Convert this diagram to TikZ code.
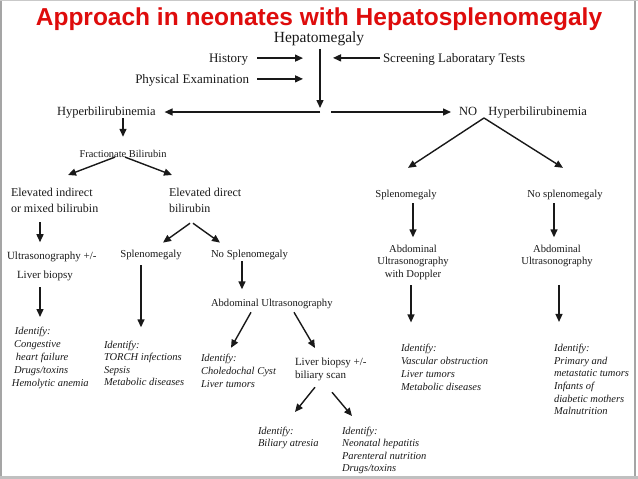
\documentclass[tikz,border=0pt]{standalone}
\usepackage{fontspec}
\setmainfont{Liberation Serif}
\newfontfamily\titlefont{Liberation Sans}
\usetikzlibrary{arrows.meta,calc}
\definecolor{titlered}{RGB}{222,12,12}
\definecolor{ink}{RGB}{25,25,25}
\definecolor{framegray}{RGB}{165,165,165}
\newcommand\fsz[2]{\fontsize{#1}{#2}\selectfont}
\begin{document}
\begin{tikzpicture}[x=1pt,y=-1pt,
  every node/.style={inner sep=0pt,outer sep=0pt,text=ink},
  arr/.style={draw=ink,line width=1.4pt,-{Triangle[length=8pt,width=7pt]}},
  idblock/.style={anchor=north west,align=left},
]
\useasboundingbox (0,0) rectangle (638,479);
% frame
\draw[framegray,line width=1.2pt] (1,0) -- (1,479);
\draw[framegray,line width=1.2pt] (635,0) -- (635,479);
\draw[framegray!60,line width=0.8pt] (0,0.4) -- (638,0.4);
\fill[framegray!70] (0,476) rectangle (638,479);
% title
\node[anchor=base,text=titlered,font=\titlefont\bfseries\fsz{24.5}{28}] (title) at (319,26) {Approach in neonates with Hepatosplenomegaly};
% top
\node[anchor=base,font=\fsz{15.5}{18}] (hep) at (319,42.5) {Hepatomegaly};
\node[anchor=base east,font=\fsz{13}{15}] (hist) at (248,62) {History};
\node[anchor=base east,font=\fsz{13}{15}] (phys) at (249,83) {Physical Examination};
\node[anchor=base west,font=\fsz{13}{15}] (screen) at (383,62) {Screening Laboratary Tests};
\coordinate (trunk) at (320,112);
\node[anchor=base west,font=\fsz{12.5}{14}] (hyper) at (57,115) {Hyperbilirubinemia};
\node[anchor=base west,font=\fsz{12.5}{14}] (nohyper) at (459,115) {NO\hspace{0.9em}Hyperbilirubinemia};
% left branch
\node[anchor=base,font=\fsz{10.4}{12}] (frac) at (123,157) {Fractionate Bilirubin};
\node[idblock,font=\fsz{12}{16}] (ind) at (11,187.8) {Elevated indirect\\or mixed bilirubin};
\node[idblock,font=\fsz{12}{16}] (dir) at (169,187.8) {Elevated direct\\bilirubin};
\node[idblock,font=\fsz{11}{19.5}] (us1) at (7,251.5) {Ultrasonography +/-\\\hspace{10pt}Liver biopsy};
\node[idblock,font=\itshape\fsz{10.5}{13}] (idL) at (12,326.8) {\hspace{3pt}Identify:\\\hspace{2pt}Congestive\\\hspace{4pt}heart failure\\\hspace{2pt}Drugs/toxins\\Hemolytic anemia};
\node[anchor=base,font=\fsz{10.7}{12}] (spl1) at (151,257) {Splenomegaly};
\node[anchor=base west,font=\fsz{10.7}{12}] (nospl1) at (211,257) {No Splenomegaly};
\node[idblock,font=\itshape\fsz{10.5}{12.6}] (idT) at (104,340.8) {Identify:\\TORCH infections\\Sepsis\\Metabolic diseases};
\node[anchor=base west,font=\fsz{10.6}{12}] (abd1) at (211,306) {Abdominal Ultrasonography};
\node[idblock,font=\itshape\fsz{10.5}{13}] (idC) at (201,353.8) {Identify:\\Choledochal Cyst\\Liver tumors};
\node[idblock,font=\fsz{11}{13}] (lbx) at (295,357.5) {Liver biopsy +/-\\biliary scan};
\node[idblock,font=\itshape\fsz{10.5}{12.5}] (idB) at (258,426.8) {Identify:\\Biliary atresia};
\node[idblock,font=\itshape\fsz{10.5}{12.5}] (idN) at (342,426.8) {Identify:\\Neonatal hepatitis\\Parenteral nutrition\\Drugs/toxins};
% right branch
\node[anchor=base,font=\fsz{10.7}{12}] (spl2) at (406,197) {Splenomegaly};
\node[anchor=base,font=\fsz{10.7}{12}] (nospl2) at (565,197) {No splenomegaly};
\node[anchor=north,align=center,font=\fsz{10.6}{12.5}] (abd2) at (413,244.8) {Abdominal\\Ultrasonography\\with Doppler};
\node[anchor=north,align=center,font=\fsz{10.6}{12.5}] (abd3) at (557,244.8) {Abdominal\\Ultrasonography};
\node[idblock,font=\itshape\fsz{10.5}{13}] (idV) at (401,344.3) {Identify:\\Vascular obstruction\\Liver tumors\\Metabolic diseases};
\node[idblock,font=\itshape\fsz{10.5}{12.6}] (idP) at (554,344.3) {Identify:\\Primary and\\metastatic tumors\\Infants of\\diabetic mothers\\Malnutrition};
% connectors
\draw[arr] (hist.east) ++(9,-1) -- ++(46,0);
\draw[arr] (phys.east) ++(8,-1) -- ++(46,0);
\draw[arr] (screen.west) ++(-3,-1) -- ++(-47,0);
\draw[arr] ($(hep.south)+(1,3)$) -- ($(trunk)+(0,-4)$);
\draw[arr] (trunk) -- ($(trunk -| hyper.east)+(9,0)$);
\draw[arr] ($(trunk)+(11,0)$) -- ($(trunk -| nohyper.west)+(-8,0)$);
\draw[arr] ($(hyper.base west)+(66,3)$) -- ($(frac.north)+(0,-13)$);
\draw[arr] ($(frac.south)+(-8,0)$) -- ($(ind.north west)+(57,-12.8)$);
\draw[arr] ($(frac.south)+(2,0)$) -- ($(dir.north west)+(3,-12.8)$);
\draw[arr] ($(ind.south west)+(29,10)$) -- ++(0,20);
\draw[arr] ($(dir.south west)+(21,11)$) -- ($(spl1.north)+(12,-7)$);
\draw[arr] ($(dir.south west)+(24,11)$) -- ($(nospl1.north west)+(9,-7)$);
\draw[arr] ($(spl1.south)+(-10,6)$) -- ++(0,62);
\draw[arr] ($(nospl1.south)+(-7.5,2)$) -- ++(0,28);
\draw[arr] ($(abd1.south west)+(40,4)$) -- ($(idC.north west)+(30,-6)$);
\draw[arr] ($(abd1.south west)+(83,4)$) -- ($(lbx.north west)+(20,-9.5)$);
\draw[arr] ($(lbx.south west)+(20,6.7)$) -- ($(idB.north west)+(37,-14.8)$);
\draw[arr] ($(lbx.south west)+(37,11.7)$) -- ($(idN.north west)+(10,-10.8)$);
\draw[arr] ($(us1.south west)+(33,6)$) -- ++(0,30);
\draw[arr] ($(nohyper.south west)+(25,0.3)$) -- ($(spl2.north)+(2,-21.7)$);
\draw[arr] ($(nohyper.south west)+(25,0.3)$) -- ($(nospl2.north)+(-2,-21.7)$);
\draw[arr] ($(spl2.south)+(7,4)$) -- ++(0,34);
\draw[arr] ($(nospl2.south)+(-11,4)$) -- ++(0,34);
\draw[arr] ($(abd2.south)+(-2,6)$) -- ++(0,37);
\draw[arr] ($(abd3.south)+(2,18)$) -- ++(0,37);
\end{tikzpicture}
\end{document}
